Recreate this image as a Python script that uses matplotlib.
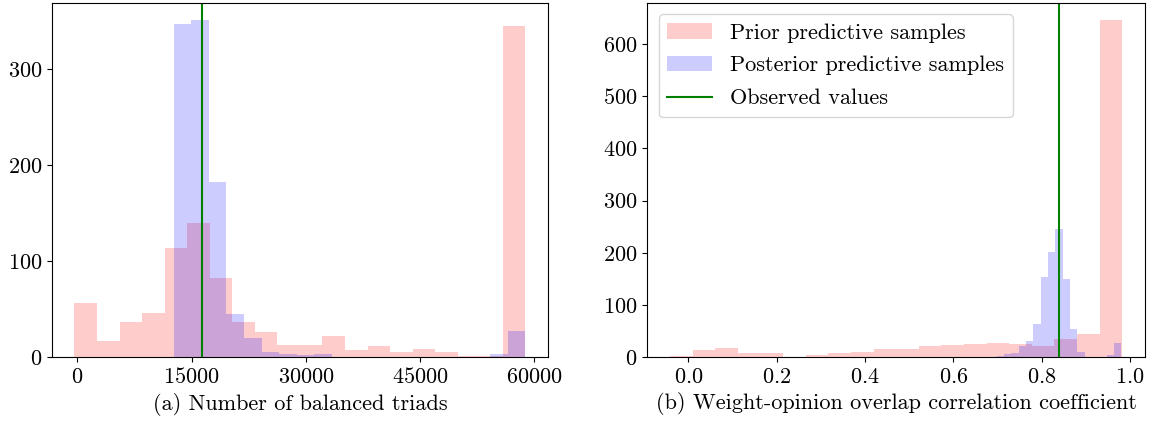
import numpy as np
import matplotlib
matplotlib.use("Agg")
from matplotlib import pyplot as plt

plt.rcParams['font.family'] = 'serif'
plt.rcParams['font.serif'] = ['cmr10']
plt.rcParams['mathtext.fontset'] = 'cm'
plt.rcParams['axes.unicode_minus'] = False
plt.rcParams['axes.formatter.use_mathtext'] = True
plt.rcParams['font.size'] = 16

# (a) number of balanced triads
triads_prior_lo, triads_prior_hi = -390, 58840
triads_prior = [57, 17, 37, 46, 114, 140, 82, 37, 26, 13,
                13, 22, 8, 12, 6, 9, 5, 1, 1, 345]
triads_post_lo, triads_post_hi = 12640, 58840
triads_post = [347, 351, 182, 45, 20, 6, 3, 2, 3, 0,
               0, 0, 0, 0, 0, 0, 0, 0, 3, 27]
triads_observed = 16370

# (b) weight-opinion overlap correlation
corr_prior_lo, corr_prior_hi = -0.0414, 0.9823
corr_prior = [3, 14, 17, 9, 8, 0, 5, 9, 11, 15,
              15, 22, 24, 26, 28, 25, 22, 35, 45, 646]
corr_post_lo, corr_post_hi = 0.648, 0.980
corr_post = [1, 0, 1, 3, 6, 8, 21, 31, 63, 153,
             202, 246, 150, 54, 11, 0, 0, 0, 4, 28]
corr_observed = 0.8386


def draw_hist(ax, lo, hi, counts, **kw):
    edges = np.linspace(lo, hi, len(counts) + 1)
    ax.hist(edges[:-1], bins=edges, weights=counts, **kw)


fig = plt.figure(figsize=(11.57, 4.21), dpi=100)
ax1 = fig.add_axes([0.0449, 0.1513, 0.4287, 0.8416])
ax2 = fig.add_axes([0.5596, 0.1513, 0.4299, 0.8416])

draw_hist(ax1, triads_prior_lo, triads_prior_hi, triads_prior,
          color='red', alpha=0.2, label='Prior predictive samples')
draw_hist(ax1, triads_post_lo, triads_post_hi, triads_post,
          color='blue', alpha=0.2, label='Posterior predictive samples')
ax1.axvline(triads_observed, color='green', lw=1.5, label='Observed values')
ax1.set_xticks([0, 15000, 30000, 45000, 60000])
ax1.set_yticks([0, 100, 200, 300])
ax1.set_xlabel('(a) Number of balanced triads')

draw_hist(ax2, corr_prior_lo, corr_prior_hi, corr_prior,
          color='red', alpha=0.2, label='Prior predictive samples')
draw_hist(ax2, corr_post_lo, corr_post_hi, corr_post,
          color='blue', alpha=0.2, label='Posterior predictive samples')
ax2.axvline(corr_observed, color='green', lw=1.5, label='Observed values')
ax2.set_xticks([0.0, 0.2, 0.4, 0.6, 0.8, 1.0])
ax2.set_xlabel('(b) Weight-opinion overlap correlation coefficient')
ax2.legend(loc='upper left', labelspacing=0.6)

fig.savefig('out.png', dpi=100)
